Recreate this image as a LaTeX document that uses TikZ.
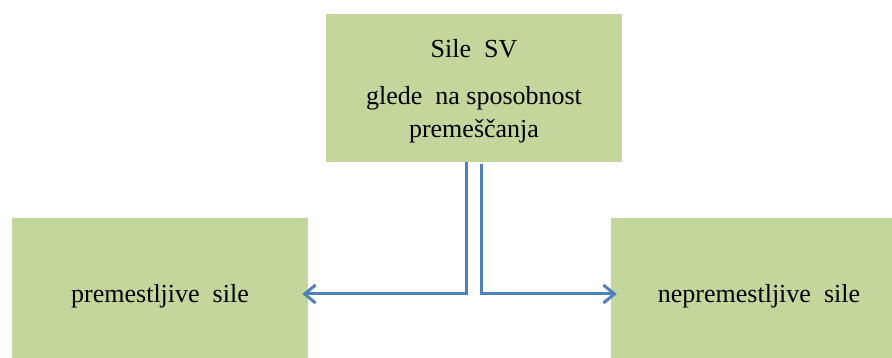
\documentclass[tikz,border=0pt]{standalone}
\usepackage{fontspec}
\setmainfont{Liberation Serif}
\newfontfamily\boxfont{Liberation Serif}
\usetikzlibrary{arrows.meta,positioning}
\definecolor{boxgreen}{RGB}{195,214,155}
\definecolor{lineblue}{RGB}{79,129,189}

\begin{document}
\begin{tikzpicture}[x=1pt,y=-1pt,
    box/.style={fill=boxgreen,minimum width=296pt,align=center,inner sep=0pt,font=\boxfont\fontsize{26}{33}\selectfont},
    link/.style={line width=3pt,lineblue,-{Straight Barb[length=11pt,width=18pt,line width=3pt]},shorten >=-6pt}]
    \useasboundingbox (0,0) rectangle (892,358);
    \node[box,minimum height=148pt] (sile) at (474,88) {\rule{0pt}{25pt}Sile\ \ SV\\[14pt]glede\ \ na sposobnost\\premeščanja};
    \node[box,minimum height=156pt] (premestljive) at (160,296) {premestljive\ \ sile};
    \node[box,minimum height=156pt] (nepremestljive) at (759,296) {nepremestljive\ \ sile};
    \draw[link] ([xshift=-8pt]sile.south) |- ([yshift=2pt]premestljive.east);
    \draw[link] ([xshift=7pt]sile.south) ++(0,2) |- ([yshift=2pt]nepremestljive.west);
\end{tikzpicture}
\end{document}
